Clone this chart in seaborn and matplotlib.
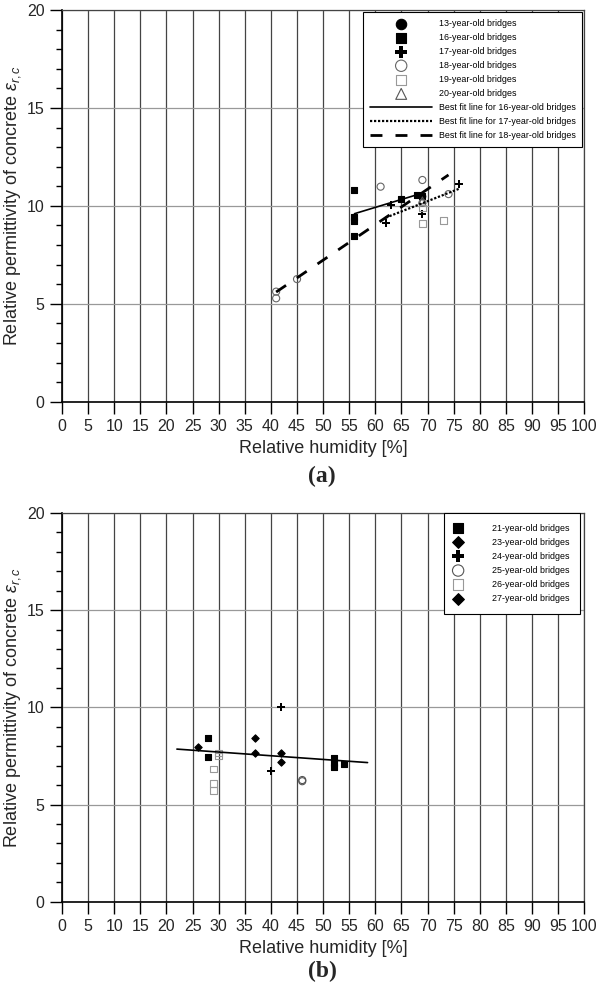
import numpy as np
import pandas as pd
import matplotlib
matplotlib.use("Agg")
import matplotlib.pyplot as plt
import seaborn as sns
from matplotlib.ticker import MultipleLocator

sns.set_style("white")
plt.rcParams['font.family'] = ['Liberation Sans', 'DejaVu Sans']
plt.rcParams['mathtext.fontset'] = 'custom'
plt.rcParams['mathtext.rm'] = 'Liberation Sans'
plt.rcParams['mathtext.it'] = 'Liberation Sans:italic'

# ---- panel (a): relative humidity [%] vs relative permittivity ----
rh13 = [69]
er13 = [10.5]
rh16 = [56, 56, 56, 56, 65, 68, 69]
er16 = [10.8, 9.43, 9.23, 8.46, 10.33, 10.55, 10.5]
rh17 = [62, 63, 69, 76]
er17 = [9.14, 10.04, 9.57, 11.12]
rh18 = [41, 41, 45, 61, 69, 74, 69]
er18 = [5.62, 5.28, 6.26, 10.98, 11.32, 10.6, 10.15]
rh19 = [69, 73, 69]
er19 = [9.11, 9.26, 9.9]
rh20 = [69]
er20 = [10.28]

# best fit lines (slope, intercept, x range)
fit16 = (0.0808, 5.075, [56, 69])
fit17 = (0.105, 2.89, [62, 76])
fit18 = (0.1812, -1.83, [41, 74])

# ---- panel (b) ----
rh21 = [28, 28, 52, 52, 52, 54]
er21 = [8.41, 7.46, 7.4, 7.15, 6.95, 7.07]
rh23 = [37, 37, 42]
er23 = [8.44, 7.64, 7.67]
rh24 = [40, 42]
er24 = [6.74, 10.04]
rh25 = [46, 46]
er25 = [6.26, 6.2]
rh26 = [29, 29, 29, 30, 30]
er26 = [6.83, 6.09, 5.71, 7.64, 7.5]
rh27 = [26, 42]
er27 = [7.98, 7.2]
fit_b = (-0.019, 8.27, [22, 58.5])

xticks = list(range(0, 101, 5))
yticks = [0, 5, 10, 15, 20]

fig = plt.figure(figsize=(6, 9.96), dpi=100)
ax_a = fig.add_axes([62 / 600, 1 - 401.7 / 996, 522.3 / 600, 391.7 / 996])
ax_b = fig.add_axes([62 / 600, 1 - 901.7 / 996, 522.3 / 600, 388.7 / 996])


def style_axes(ax):
    ax.set_xlim(0, 100)
    ax.set_ylim(0, 20)
    ax.set_xticks(xticks)
    ax.set_yticks(yticks)
    ax.yaxis.set_minor_locator(MultipleLocator(1))
    ax.xaxis.grid(True, color='#444444', lw=0.9)
    ax.yaxis.grid(True, color='#999999', lw=0.9)
    ax.set_axisbelow(True)
    for s in ['left', 'bottom']:
        ax.spines[s].set_color('black')
        ax.spines[s].set_linewidth(1.2)
    for s in ['top', 'right']:
        ax.spines[s].set_color('#444444')
        ax.spines[s].set_linewidth(0.9)
    ax.tick_params(axis='x', which='major', direction='out', length=8.5,
                   width=1, labelsize=11.5, pad=4, color='black', bottom=True)
    ax.tick_params(axis='y', which='major', direction='out', length=8.5,
                   width=1, labelsize=11.5, pad=4, color='black', left=True)
    ax.tick_params(axis='y', which='minor', direction='out', length=4.5,
                   width=1, color='black', left=True)
    ax.set_xlabel('Relative humidity [%]', fontsize=13, labelpad=4)
    ax.set_ylabel(r'Relative permittivity of concrete $\varepsilon_{r,c}$',
                  fontsize=13, labelpad=3)


def pts(ax, x, y, marker, s, label, face='black', edge='black', lw=0.8):
    sns.scatterplot(x=x, y=y, ax=ax, marker=marker, s=s, color=edge,
                    facecolor=face, edgecolor=edge, linewidth=lw, label=label,
                    legend=False)


def fit(ax, f, label, ls, lw):
    slope, icpt, xr = f
    xs = np.array(xr, dtype=float)
    sns.lineplot(x=xs, y=slope * xs + icpt, ax=ax, color='black',
                 linestyle=ls, linewidth=lw, label=label, legend=False)


# panel (a)
pts(ax_a, rh13, er13, 'o', 22, '13-year-old bridges')
pts(ax_a, rh16, er16, 's', 22, '16-year-old bridges')
pts(ax_a, rh17, er17, 'P', 30, '17-year-old bridges', lw=0)
pts(ax_a, rh18, er18, 'o', 26, '18-year-old bridges', face='none', edge='#666666')
pts(ax_a, rh19, er19, 's', 22, '19-year-old bridges', face='none', edge='#999999')
pts(ax_a, rh20, er20, '^', 24, '20-year-old bridges', face='none', edge='#555555')
fit(ax_a, fit16, 'Best fit line for 16-year-old bridges', '-', 1.2)
fit(ax_a, fit17, 'Best fit line for 17-year-old bridges', (0, (1, 0.8)), 1.6)
fit(ax_a, fit18, 'Best fit line for 18-year-old bridges', (0, (4.3, 4.7)), 2.0)
style_axes(ax_a)

leg_a = ax_a.legend(loc='upper right', bbox_to_anchor=(1, 1), borderaxespad=0.25,
                    frameon=True, fancybox=False, edgecolor='black', framealpha=1,
                    fontsize=6.4, markerscale=1.6, handlelength=7,
                    handletextpad=0.7, labelspacing=0.57, borderpad=0.75,
                    labelcolor='black')
leg_a.get_frame().set_linewidth(0.8)

# panel (b)
pts(ax_b, rh21, er21, 's', 22, '21-year-old bridges')
pts(ax_b, rh23, er23, 'D', 14, '23-year-old bridges')
pts(ax_b, rh24, er24, 'P', 30, '24-year-old bridges', lw=0)
pts(ax_b, rh25, er25, 'o', 26, '25-year-old bridges', face='none', edge='#555555')
pts(ax_b, rh26, er26, 's', 22, '26-year-old bridges', face='none', edge='#999999')
pts(ax_b, rh27, er27, 'D', 14, '27-year-old bridges')
slope, icpt, xr = fit_b
xs = np.array(xr, dtype=float)
sns.lineplot(x=xs, y=slope * xs + icpt, ax=ax_b, color='black', linewidth=1.2,
             legend=False)
style_axes(ax_b)

leg_b = ax_b.legend(loc='upper right', bbox_to_anchor=(1 - 4 / 522, 1),
                    borderaxespad=0, frameon=True, fancybox=False,
                    edgecolor='black', framealpha=1, fontsize=6.4,
                    markerscale=1.6, handlelength=0.75, handletextpad=3.45,
                    labelspacing=0.57, borderpad=1.2, labelcolor='black')
leg_b.get_frame().set_linewidth(0.8)

fig.text(322 / 600, 1 - 476 / 996, '(a)', ha='center', va='center',
         fontsize=17, fontweight='bold', family='Liberation Serif')
fig.text(322 / 600, 1 - 971 / 996, '(b)', ha='center', va='center',
         fontsize=17, fontweight='bold', family='Liberation Serif')

fig.savefig('out.png', dpi=100)
